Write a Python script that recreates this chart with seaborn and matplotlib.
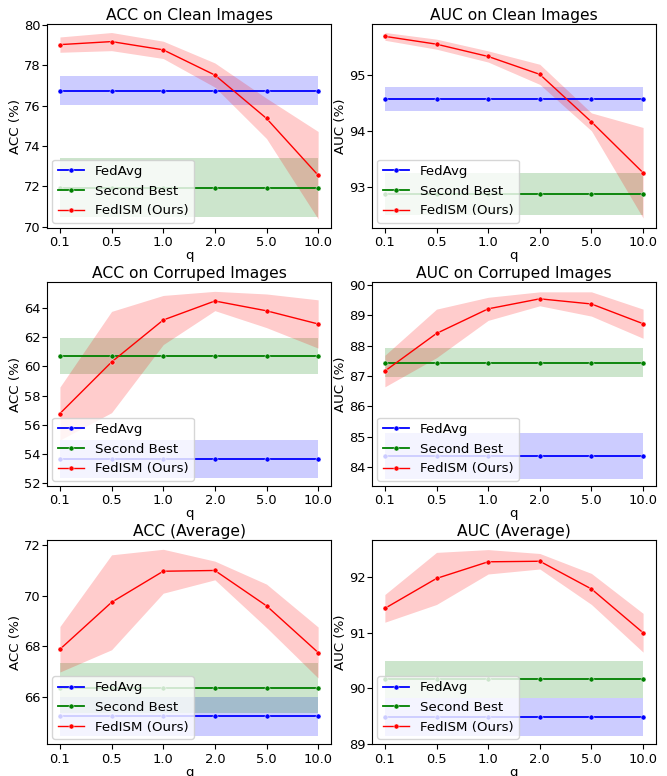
import numpy as np
import pandas as pd
import matplotlib
matplotlib.use("Agg")
import matplotlib.pyplot as plt
import seaborn as sns

plt.rcParams["font.size"] = 9.6
plt.rcParams["axes.titlesize"] = 11.2
plt.rcParams["xtick.labelsize"] = 9.4
plt.rcParams["ytick.labelsize"] = 9.4

# x categories
q_labels = ["0.1", "0.5", "1.0", "2.0", "5.0", "10.0"]

# ACC on clean images
acc_clean_fedavg, acc_clean_fedavg_std = 76.75, 0.70
acc_clean_second, acc_clean_second_std = 71.93, 1.46
acc_clean_fedism = [79.03, 79.18, 78.77, 77.52, 75.37, 72.55]
acc_clean_fedism_std = [0.38, 0.45, 0.43, 0.60, 1.00, 2.17]

# AUC on clean images
auc_clean_fedavg, auc_clean_fedavg_std = 94.58, 0.21
auc_clean_second, auc_clean_second_std = 92.88, 0.37
auc_clean_fedism = [95.70, 95.56, 95.34, 95.02, 94.17, 93.26]
auc_clean_fedism_std = [0.07, 0.09, 0.10, 0.18, 0.16, 0.81]

# ACC on corrupted images
acc_corr_fedavg, acc_corr_fedavg_std = 53.68, 1.30
acc_corr_second, acc_corr_second_std = 60.71, 1.26
acc_corr_fedism = [56.78, 60.30, 63.17, 64.47, 63.80, 62.90]
acc_corr_fedism_std = [1.81, 3.46, 1.68, 0.66, 1.15, 1.65]

# AUC on corrupted images
auc_corr_fedavg, auc_corr_fedavg_std = 84.37, 0.75
auc_corr_second, auc_corr_second_std = 87.44, 0.48
auc_corr_fedism = [87.16, 88.40, 89.21, 89.54, 89.37, 88.72]
auc_corr_fedism_std = [0.52, 0.80, 0.38, 0.23, 0.40, 0.48]

# ACC average
acc_avg_fedavg, acc_avg_fedavg_std = 65.22, 0.77
acc_avg_second, acc_avg_second_std = 66.34, 1.00
acc_avg_fedism = [67.88, 69.74, 70.97, 71.00, 69.60, 67.75]
acc_avg_fedism_std = [0.90, 1.88, 0.87, 0.37, 0.86, 1.01]

# AUC average
auc_avg_fedavg, auc_avg_fedavg_std = 89.48, 0.35
auc_avg_second, auc_avg_second_std = 90.16, 0.33
auc_avg_fedism = [91.44, 91.98, 92.28, 92.29, 91.79, 91.00]
auc_avg_fedism_std = [0.25, 0.47, 0.22, 0.14, 0.28, 0.35]

panels = [
    ("ACC on Clean Images", "ACC (%)", acc_clean_fedavg, acc_clean_fedavg_std,
     acc_clean_second, acc_clean_second_std, acc_clean_fedism, acc_clean_fedism_std,
     (69.93, 80.05), [70, 72, 74, 76, 78, 80]),
    ("AUC on Clean Images", "AUC (%)", auc_clean_fedavg, auc_clean_fedavg_std,
     auc_clean_second, auc_clean_second_std, auc_clean_fedism, auc_clean_fedism_std,
     (92.27, 95.92), [93, 94, 95]),
    ("ACC on Corruped Images", "ACC (%)", acc_corr_fedavg, acc_corr_fedavg_std,
     acc_corr_second, acc_corr_second_std, acc_corr_fedism, acc_corr_fedism_std,
     (51.82, 65.76), [52, 54, 56, 58, 60, 62, 64]),
    ("AUC on Corruped Images", "AUC (%)", auc_corr_fedavg, auc_corr_fedavg_std,
     auc_corr_second, auc_corr_second_std, auc_corr_fedism, auc_corr_fedism_std,
     (83.37, 90.09), [84, 85, 86, 87, 88, 89, 90]),
    ("ACC (Average)", "ACC (%)", acc_avg_fedavg, acc_avg_fedavg_std,
     acc_avg_second, acc_avg_second_std, acc_avg_fedism, acc_avg_fedism_std,
     (64.12, 72.2), [66, 68, 70, 72]),
    ("AUC (Average)", "AUC (%)", auc_avg_fedavg, auc_avg_fedavg_std,
     auc_avg_second, auc_avg_second_std, auc_avg_fedism, auc_avg_fedism_std,
     (88.99, 92.67), [89, 90, 91, 92]),
]

pos = np.arange(len(q_labels))

fig, axes = plt.subplots(3, 2, figsize=(6.67, 7.76), dpi=100)
fig.subplots_adjust(left=0.0705, right=0.9835, top=0.969, bottom=0.041,
                    wspace=0.144, hspace=0.265)

for ax, (title, ylabel, fa, fa_sd, sb, sb_sd, fi, fi_sd, ylim, yticks) in zip(axes.flat, panels):
    fa_arr = np.repeat(fa, len(q_labels))
    sb_arr = np.repeat(sb, len(q_labels))
    fi_arr = np.array(fi)
    fi_sd_arr = np.array(fi_sd)

    sns.lineplot(x=pos, y=fa_arr, color="blue", marker="o", markersize=3.6,
                 markeredgewidth=0.3, linewidth=1.3, label="FedAvg", ax=ax)
    ax.fill_between(pos, fa_arr - fa_sd, fa_arr + fa_sd, color="blue", alpha=0.2, lw=0)

    sns.lineplot(x=pos, y=sb_arr, color="green", marker="o", markersize=3.6,
                 markeredgewidth=0.3, linewidth=1.3, label="Second Best", ax=ax)
    ax.fill_between(pos, sb_arr - sb_sd, sb_arr + sb_sd, color="green", alpha=0.2, lw=0)

    sns.lineplot(x=pos, y=fi_arr, color="red", marker="o", markersize=3.6,
                 markeredgewidth=0.3, linewidth=1.0, label="FedISM (Ours)", ax=ax)
    ax.fill_between(pos, fi_arr - fi_sd_arr, fi_arr + fi_sd_arr, color="red", alpha=0.2, lw=0)

    ax.set_xticks(pos)
    ax.set_xticklabels(q_labels)
    ax.set_yticks(yticks)
    ax.set_ylim(*ylim)
    ax.tick_params(axis="x", pad=2.5)
    ax.tick_params(axis="y", pad=1)
    ax.set_title(title, pad=3)
    ax.set_xlabel("q", labelpad=0)
    ax.set_ylabel(ylabel, labelpad=1.5)
    ax.legend(loc="lower left", borderaxespad=0.4)

fig.savefig("out.png", dpi=100)
